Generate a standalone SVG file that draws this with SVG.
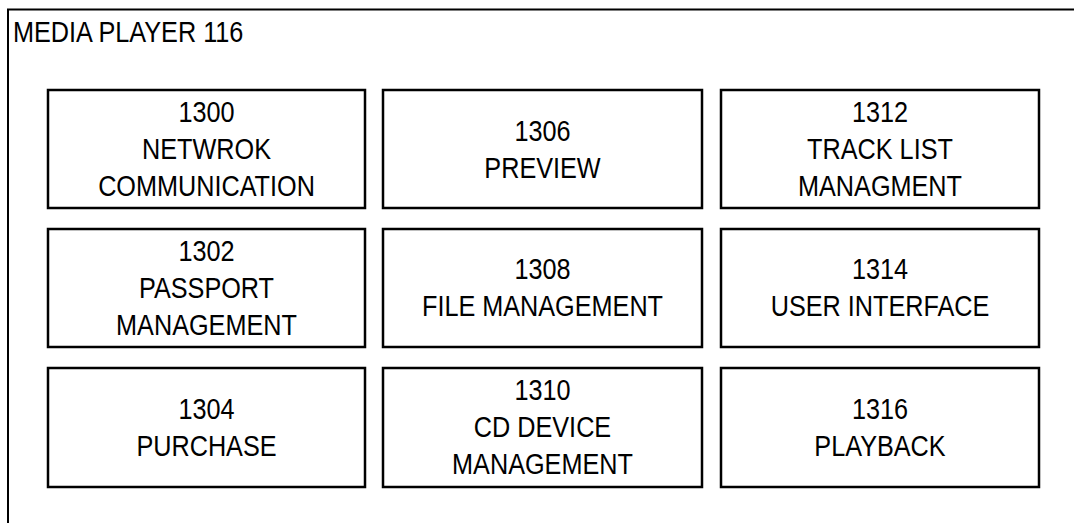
<svg xmlns="http://www.w3.org/2000/svg" width="1074" height="523" viewBox="0 0 1074 523">
<style>
.frame{fill:none;stroke:#000;stroke-width:2}
.box{fill:#fff;stroke:#000;stroke-width:2.5}
text{font-family:"Liberation Sans",Arial,sans-serif;font-size:29px;fill:#000;text-anchor:middle}
.hdr{text-anchor:start}
</style>
<rect width="1074" height="523" fill="#fff"/>
<g id="media-player">
<rect class="frame" x="8" y="9.5" width="1100" height="600"/>
<g transform="translate(13,41.5) scale(0.87,1)"><text class="hdr" x="0" y="0">MEDIA PLAYER 116</text></g>
</g>
<g id="connectors"></g>
<g id="n1300">
<rect class="box" x="48" y="90" width="317" height="118"/>
<g transform="translate(206.5,0) scale(0.87,1)"><text x="0" y="122">1300</text><text x="0" y="159">NETWROK</text><text x="0" y="196">COMMUNICATION</text></g>
</g>
<g id="n1302">
<rect class="box" x="48" y="229" width="317" height="118"/>
<g transform="translate(206.5,0) scale(0.87,1)"><text x="0" y="261">1302</text><text x="0" y="298">PASSPORT</text><text x="0" y="335">MANAGEMENT</text></g>
</g>
<g id="n1304">
<rect class="box" x="48" y="368" width="317" height="119"/>
<g transform="translate(206.5,0) scale(0.87,1)"><text x="0" y="419.5">1304</text><text x="0" y="456.5">PURCHASE</text></g>
</g>
<g id="n1306">
<rect class="box" x="383" y="90" width="319" height="118"/>
<g transform="translate(542.5,0) scale(0.87,1)"><text x="0" y="141">1306</text><text x="0" y="178">PREVIEW</text></g>
</g>
<g id="n1308">
<rect class="box" x="383" y="229" width="319" height="118"/>
<g transform="translate(542.5,0) scale(0.87,1)"><text x="0" y="279.5">1308</text><text x="0" y="316.5">FILE MANAGEMENT</text></g>
</g>
<g id="n1310">
<rect class="box" x="383" y="368" width="319" height="119"/>
<g transform="translate(542.5,0) scale(0.87,1)"><text x="0" y="400.5">1310</text><text x="0" y="437.5">CD DEVICE</text><text x="0" y="474.5">MANAGEMENT</text></g>
</g>
<g id="n1312">
<rect class="box" x="721" y="90" width="318" height="118"/>
<g transform="translate(880,0) scale(0.87,1)"><text x="0" y="122">1312</text><text x="0" y="159">TRACK LIST</text><text x="0" y="196">MANAGMENT</text></g>
</g>
<g id="n1314">
<rect class="box" x="721" y="229" width="318" height="118"/>
<g transform="translate(880,0) scale(0.87,1)"><text x="0" y="279.5">1314</text><text x="0" y="316.5">USER INTERFACE</text></g>
</g>
<g id="n1316">
<rect class="box" x="721" y="368" width="318" height="119"/>
<g transform="translate(880,0) scale(0.87,1)"><text x="0" y="419.5">1316</text><text x="0" y="456.5">PLAYBACK</text></g>
</g>
</svg>
